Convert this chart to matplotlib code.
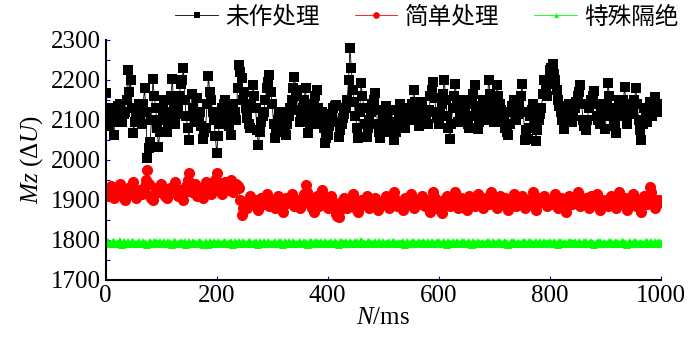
import numpy as np
import matplotlib
matplotlib.use("Agg")
import matplotlib.pyplot as plt
from matplotlib.ticker import MultipleLocator

# values: samples at 0, 5, ..., 1000 ms
untreated = [
    2167, 2085, 2130, 2062, 2110, 2140, 2095, 2120, 2225, 2200, 2067, 2115, 2140, 2090, 2180, 2005, 2045, 2202, 2130, 2032,
    2100, 2150, 2070, 2120, 2202, 2090, 2135, 2190, 2230, 2110, 2050, 2165, 2095, 2155, 2120, 2052, 2080, 2210, 2150, 2100,
    2017, 2090, 2130, 2150, 2110, 2062, 2140, 2100, 2237, 2205, 2170, 2105, 2080, 2187, 2130, 2037, 2095, 2120, 2180, 2212,
    2140, 2055, 2100, 2120, 2075, 2062, 2110, 2150, 2207, 2160, 2095, 2130, 2180, 2067, 2110, 2140, 2175, 2090, 2120, 2042,
    2062, 2100, 2130, 2137, 2057, 2090, 2115, 2150, 2280, 2175, 2110, 2055, 2192, 2130, 2057, 2100, 2140, 2167, 2090, 2055,
    2110, 2135, 2070, 2125, 2050, 2095, 2140, 2110, 2080, 2130, 2100, 2175, 2120, 2085, 2145, 2110, 2090, 2160, 2195, 2120,
    2090, 2140, 2200, 2110, 2052, 2130, 2190, 2095, 2122, 2150, 2100, 2080, 2140, 2187, 2077, 2115, 2150, 2100, 2200, 2130,
    2095, 2187, 2140, 2110, 2080, 2062, 2120, 2150, 2100, 2135, 2190, 2050, 2052, 2110, 2140, 2047, 2100, 2130, 2200, 2160,
    2225, 2240, 2200, 2150, 2120, 2077, 2110, 2140, 2095, 2130, 2160, 2187, 2100, 2075, 2130, 2150, 2172, 2110, 2090, 2140,
    2077, 2192, 2130, 2100, 2067, 2150, 2115, 2182, 2090, 2140, 2120, 2180, 2100, 2050, 2130, 2095, 2145, 2110, 2157, 2120,
    2130,
]
# samples at 2.5, 7.5, ..., 997.5 ms
untreated_mid = [
    2110, 2100, 2095, 2125, 2135, 2105, 2115, 2150, 2170, 2130, 2095, 2125, 2105, 2140, 2120, 2030, 2100, 2160, 2080, 2070,
    2125, 2110, 2095, 2160, 2140, 2115, 2160, 2200, 2150, 2080, 2110, 2130, 2120, 2100, 2085, 2070, 2140, 2170, 2120, 2060,
    2060, 2110, 2140, 2120, 2085, 2100, 2120, 2180, 2220, 2150, 2130, 2090, 2140, 2160, 2075, 2070, 2110, 2150, 2195, 2170,
    2090, 2080, 2115, 2095, 2070, 2090, 2130, 2180, 2175, 2125, 2115, 2150, 2120, 2090, 2125, 2160, 2130, 2105, 2080, 2055,
    2085, 2115, 2135, 2095, 2075, 2105, 2130, 2200, 2230, 2145, 2080, 2120, 2160, 2090, 2080, 2120, 2150, 2125, 2070, 2085,
    2120, 2100, 2095, 2085, 2070, 2120, 2125, 2095, 2105, 2115, 2140, 2145, 2100, 2115, 2125, 2100, 2125, 2175, 2155, 2105,
    2115, 2165, 2150, 2080, 2090, 2160, 2140, 2110, 2135, 2125, 2090, 2110, 2165, 2130, 2095, 2135, 2125, 2150, 2165, 2110,
    2140, 2160, 2125, 2095, 2070, 2090, 2135, 2125, 2115, 2160, 2120, 2075, 2080, 2125, 2095, 2075, 2115, 2165, 2180, 2190,
    2230, 2215, 2175, 2135, 2100, 2095, 2125, 2115, 2110, 2145, 2170, 2140, 2085, 2100, 2140, 2160, 2140, 2100, 2115, 2110,
    2135, 2160, 2115, 2085, 2110, 2130, 2150, 2135, 2115, 2130, 2150, 2140, 2075, 2090, 2110, 2120, 2125, 2135, 2140, 2125,
]

simple = [
    1925, 1910, 1935, 1905, 1920, 1940, 1915, 1900, 1930, 1915, 1945, 1905, 1925, 1915, 1935, 1975, 1910, 1900, 1930, 1920,
    1940, 1915, 1905, 1930, 1920, 1945, 1910, 1925, 1900, 1935, 1967, 1920, 1940, 1910, 1930, 1905, 1945, 1925, 1915, 1935,
    1967, 1930, 1915, 1945, 1925, 1950, 1920, 1940, 1930, 1862, 1895, 1880, 1910, 1890, 1900, 1875, 1905, 1890, 1915, 1885,
    1900, 1880, 1910, 1890, 1870, 1905, 1895, 1915, 1885, 1900, 1880, 1895, 1937, 1905, 1890, 1870, 1910, 1885, 1925, 1900,
    1880, 1910, 1890, 1865, 1857, 1895, 1905, 1880, 1900, 1915, 1885, 1870, 1900, 1890, 1910, 1880, 1895, 1905, 1875, 1895,
    1890, 1910, 1880, 1900, 1920, 1885, 1895, 1875, 1905, 1890, 1915, 1880, 1900, 1890, 1910, 1885, 1900, 1870, 1920, 1895,
    1880, 1867, 1900, 1910, 1885, 1895, 1920, 1880, 1905, 1890, 1875, 1910, 1895, 1885, 1915, 1900, 1880, 1905, 1890, 1920,
    1895, 1880, 1910, 1890, 1905, 1875, 1900, 1915, 1885, 1895, 1910, 1880, 1900, 1890, 1920, 1875, 1905, 1895, 1910, 1885,
    1900, 1890, 1915, 1880, 1905, 1895, 1870, 1910, 1890, 1900, 1920, 1885, 1895, 1905, 1880, 1910, 1890, 1915, 1875, 1900,
    1895, 1885, 1910, 1900, 1880, 1920, 1890, 1905, 1875, 1895, 1915, 1885, 1900, 1870, 1910, 1890, 1932, 1905, 1880, 1900,
    1895,
]
simple_mid = [
    1915, 1925, 1920, 1915, 1930, 1925, 1905, 1915, 1920, 1930, 1925, 1915, 1920, 1925, 1950, 1940, 1905, 1915, 1925, 1930,
    1925, 1910, 1920, 1925, 1935, 1925, 1915, 1910, 1920, 1950, 1940, 1930, 1925, 1920, 1915, 1925, 1935, 1920, 1925, 1950,
    1945, 1920, 1930, 1935, 1940, 1935, 1930, 1935, 1900, 1880, 1885, 1895, 1900, 1895, 1885, 1890, 1900, 1905, 1900, 1890,
    1890, 1895, 1900, 1880, 1890, 1900, 1905, 1900, 1890, 1890, 1885, 1915, 1920, 1895, 1880, 1890, 1900, 1905, 1910, 1890,
    1895, 1900, 1875, 1860, 1875, 1900, 1890, 1890, 1905, 1900, 1875, 1885, 1895, 1900, 1895, 1885, 1900, 1890, 1885, 1890,
    1900, 1895, 1890, 1910, 1900, 1890, 1885, 1890, 1895, 1905, 1895, 1890, 1895, 1900, 1895, 1890, 1885, 1895, 1905, 1885,
    1875, 1885, 1905, 1895, 1890, 1910, 1900, 1890, 1895, 1880, 1890, 1900, 1890, 1900, 1905, 1890, 1895, 1895, 1905, 1905,
    1885, 1895, 1900, 1895, 1890, 1885, 1905, 1900, 1890, 1900, 1895, 1890, 1895, 1905, 1895, 1890, 1900, 1900, 1895, 1890,
    1895, 1905, 1895, 1890, 1900, 1880, 1890, 1900, 1895, 1910, 1900, 1890, 1900, 1890, 1895, 1900, 1905, 1895, 1885, 1895,
    1890, 1895, 1905, 1890, 1900, 1905, 1895, 1890, 1885, 1905, 1900, 1890, 1885, 1890, 1900, 1910, 1920, 1890, 1890, 1900,
]

isolated = [
    1792, 1796, 1789, 1794, 1791, 1797, 1788, 1793, 1795, 1790, 1794, 1789, 1796, 1791, 1793, 1788, 1795, 1790, 1794, 1792,
    1789, 1795, 1791, 1793, 1788, 1796, 1790, 1794, 1792, 1787, 1795, 1791, 1793, 1789, 1796, 1790, 1794, 1788, 1792, 1795,
    1791, 1793, 1789, 1796, 1790, 1794, 1788, 1792, 1795, 1790, 1793, 1789, 1795, 1791, 1794, 1788, 1792, 1796, 1790, 1793,
    1789, 1795, 1791, 1794, 1788, 1793, 1796, 1790, 1792, 1789, 1795, 1791, 1793, 1788, 1794, 1790, 1796, 1792, 1789, 1794,
    1791, 1795, 1790, 1793, 1788, 1796, 1792, 1789, 1794, 1791, 1795, 1790, 1797, 1792, 1789, 1794, 1791, 1796, 1790, 1793,
    1795, 1791, 1794, 1789, 1796, 1792, 1790, 1794, 1788, 1793, 1791, 1795, 1789, 1794, 1790, 1792, 1796, 1789, 1793, 1791,
    1794, 1790, 1795, 1788, 1792, 1796, 1790, 1793, 1789, 1795, 1791, 1794, 1788, 1792, 1795, 1790, 1793, 1789, 1796, 1791,
    1793, 1789, 1795, 1791, 1794, 1788, 1792, 1796, 1790, 1793, 1789, 1795, 1791, 1794, 1790, 1796, 1792, 1789, 1794, 1791,
    1795, 1790, 1793, 1788, 1796, 1792, 1789, 1794, 1791, 1795, 1790, 1793, 1789, 1796, 1791, 1794, 1788, 1792, 1795, 1790,
    1793, 1789, 1795, 1791, 1794, 1790, 1796, 1792, 1788, 1794, 1791, 1795, 1789, 1793, 1790, 1796, 1792, 1789, 1794, 1791,
    1793,
]
isolated_mid = [
    1794, 1791, 1795, 1790, 1793, 1789, 1796, 1791, 1792, 1795, 1790, 1793, 1791, 1795, 1790, 1792, 1793, 1796, 1789, 1795,
    1793, 1790, 1795, 1789, 1794, 1791, 1793, 1790, 1795, 1791, 1789, 1794, 1790, 1795, 1792, 1788, 1791, 1795, 1790, 1793,
    1795, 1790, 1794, 1791, 1793, 1789, 1795, 1790, 1792, 1794, 1791, 1796, 1790, 1793, 1789, 1795, 1791, 1793, 1794, 1790,
    1792, 1790, 1796, 1791, 1794, 1790, 1792, 1795, 1791, 1793, 1790, 1794, 1789, 1796, 1792, 1794, 1790, 1795, 1791, 1792,
    1793, 1790, 1795, 1791, 1794, 1790, 1796, 1791, 1793, 1789, 1795, 1792, 1794, 1790, 1795, 1792, 1793, 1790, 1795, 1791,
    1790, 1793, 1791, 1795, 1790, 1793, 1792, 1791, 1795, 1790, 1794, 1791, 1793, 1792, 1794, 1790, 1791, 1795, 1790, 1794,
    1791, 1793, 1790, 1794, 1791, 1793, 1794, 1790, 1795, 1791, 1793, 1790, 1795, 1791, 1793, 1792, 1791, 1794, 1790, 1795,
    1791, 1794, 1790, 1793, 1792, 1790, 1795, 1791, 1793, 1791, 1794, 1790, 1795, 1792, 1793, 1791, 1795, 1790, 1793, 1792,
    1792, 1794, 1790, 1795, 1791, 1793, 1790, 1795, 1792, 1791, 1794, 1791, 1795, 1790, 1793, 1792, 1790, 1794, 1792, 1793,
    1791, 1794, 1790, 1793, 1792, 1791, 1795, 1790, 1793, 1791, 1794, 1790, 1793, 1791, 1795, 1790, 1794, 1791, 1792, 1794,
]

labels = ['未作处理', '简单处理', '特殊隔绝']


def merge(main, mid):
    out = np.empty(len(main) + len(mid))
    out[0::2] = main
    out[1::2] = mid
    return out


y_black = merge(untreated, untreated_mid)
y_red = merge(simple, simple_mid)
y_green = merge(isolated, isolated_mid)
t = np.linspace(0, 1000, len(y_black))

plt.rcParams['font.family'] = ['Liberation Serif', 'Noto Sans CJK SC']
plt.rcParams['mathtext.fontset'] = 'custom'
plt.rcParams['mathtext.rm'] = 'Liberation Serif'
plt.rcParams['mathtext.it'] = 'Liberation Serif:italic'

fig = plt.figure(figsize=(7, 3.41), dpi=100)
ax = fig.add_axes([0.151, 0.179, 0.793, 0.704])

ax.plot(t, y_black, color='black', lw=0.6, marker='s', ms=6.5, mew=0, label=labels[0])
ax.plot(t, y_red, color='red', lw=0.6, marker='o', ms=8, mew=0, label=labels[1])
ax.plot(t, y_green, color='#00ff00', lw=0.6, marker='^', ms=6, mew=0, label=labels[2])

ax.set_xlim(0, 1000)
ax.set_ylim(1700, 2300)
ax.xaxis.set_major_locator(MultipleLocator(200))
ax.yaxis.set_major_locator(MultipleLocator(100))
ax.yaxis.set_minor_locator(MultipleLocator(50))
ax.tick_params(which='both', direction='in', color='blue', length=3, width=0.8,
               labelsize=18, top=False, right=False)
for s in ['top', 'right']:
    ax.spines[s].set_visible(False)
for s in ['left', 'bottom']:
    ax.spines[s].set_linewidth(1.5)

ax.set_xlabel('$N$/ms', fontsize=18, labelpad=0)
ax.set_ylabel('$Mz$ ($\\Delta U$)', fontsize=18, labelpad=4)

fig.legend(loc='center', bbox_to_anchor=(0.61, 0.95), ncol=3, frameon=False,
           prop={'family': ['Noto Sans CJK SC'], 'size': 17}, markerscale=0.6,
           handlelength=1.8, handletextpad=0.3, columnspacing=1.5, borderaxespad=0)

fig.savefig('out.png', dpi=100)
